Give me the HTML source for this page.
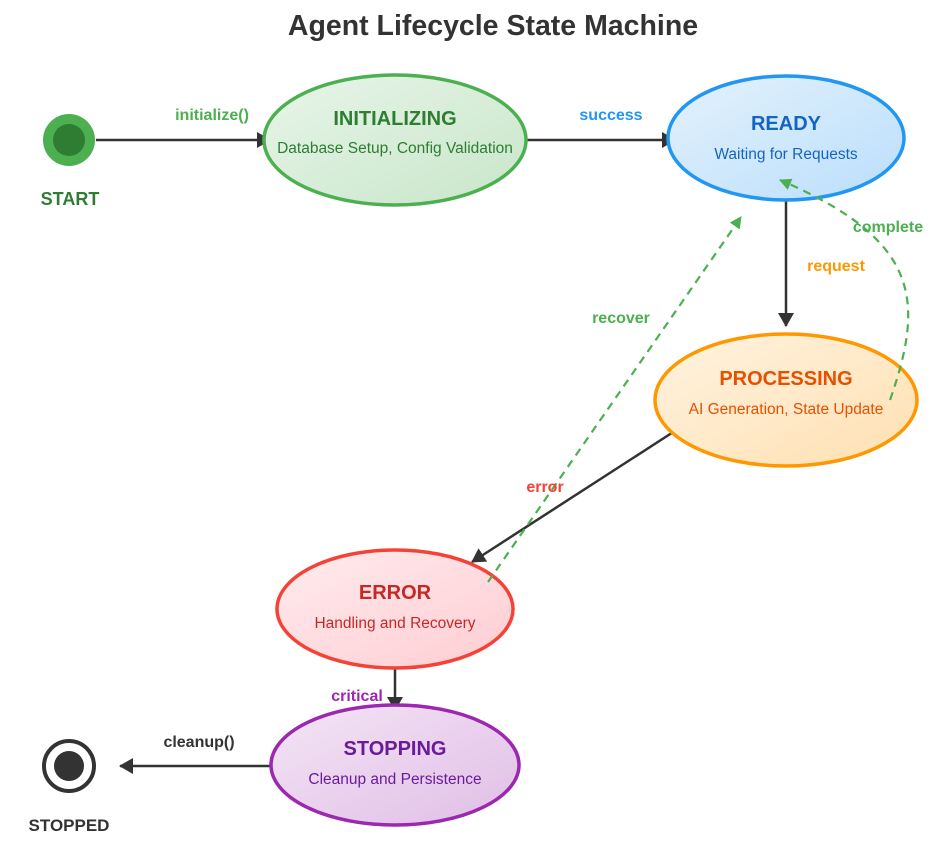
<!DOCTYPE html>
<html><head><meta charset="utf-8"><style>
html,body{margin:0;padding:0;background:#fff;}
svg{display:block;font-family:"Liberation Sans",Arial,sans-serif;}
</style></head><body>
<svg width="933" height="848" viewBox="0 0 933 848" xmlns="http://www.w3.org/2000/svg">
<defs>
<linearGradient id="gi" x1="0" y1="0" x2="1" y2="1"><stop offset="0" stop-color="#e8f5e9"/><stop offset="1" stop-color="#c8e6c9"/></linearGradient>
<linearGradient id="gr" x1="0" y1="0" x2="1" y2="1"><stop offset="0" stop-color="#e3f2fd"/><stop offset="1" stop-color="#bbdefb"/></linearGradient>
<linearGradient id="gp" x1="0" y1="0" x2="1" y2="1"><stop offset="0" stop-color="#fff3e0"/><stop offset="1" stop-color="#ffe0b2"/></linearGradient>
<linearGradient id="ge" x1="0" y1="0" x2="1" y2="1"><stop offset="0" stop-color="#ffebee"/><stop offset="1" stop-color="#ffcdd2"/></linearGradient>
<linearGradient id="gs" x1="0" y1="0" x2="1" y2="1"><stop offset="0" stop-color="#f3e5f5"/><stop offset="1" stop-color="#e1bee7"/></linearGradient>
<marker id="ar" markerWidth="14" markerHeight="16" refX="13" refY="8" orient="auto" markerUnits="userSpaceOnUse" viewBox="0 0 14 16"><path d="M0,0 L14,8 L0,16 z" fill="#333"/></marker>
<marker id="ag" markerWidth="12" markerHeight="12" refX="11" refY="6" orient="auto" markerUnits="userSpaceOnUse" viewBox="0 0 12 12"><path d="M0,0 L12,6 L0,12 z" fill="#4caf50"/></marker>
</defs>
<text x="493" y="35" text-anchor="middle" font-size="28.5" font-weight="bold" fill="#333">Agent Lifecycle State Machine</text>

<line x1="96" y1="140" x2="270" y2="140" stroke="#333" stroke-width="2.5" marker-end="url(#ar)"/>
<line x1="527" y1="140" x2="675" y2="140" stroke="#333" stroke-width="2.5" marker-end="url(#ar)"/>
<line x1="786" y1="200" x2="786" y2="326" stroke="#333" stroke-width="2.5" marker-end="url(#ar)"/>
<line x1="681" y1="427" x2="472" y2="562" stroke="#333" stroke-width="2.5" marker-end="url(#ar)"/>
<line x1="395" y1="668" x2="395" y2="710" stroke="#333" stroke-width="2.5" marker-end="url(#ar)"/>
<line x1="271" y1="766" x2="120" y2="766" stroke="#333" stroke-width="2.5" marker-end="url(#ar)"/>

<circle cx="69" cy="140" r="26" fill="#4caf50"/>
<circle cx="69" cy="140" r="16" fill="#2e7d32"/>
<text x="70" y="205" text-anchor="middle" font-size="18" font-weight="bold" fill="#2e7d32">START</text>

<ellipse cx="395" cy="140" rx="131" ry="65" fill="url(#gi)" stroke="#4caf50" stroke-width="3.5"/>
<text x="395" y="125" text-anchor="middle" font-size="20" font-weight="bold" fill="#2e7d32">INITIALIZING</text>
<text x="395" y="153" text-anchor="middle" font-size="15.5" fill="#2e7d32">Database Setup, Config Validation</text>

<ellipse cx="786" cy="138" rx="118" ry="62" fill="url(#gr)" stroke="#2196f3" stroke-width="3.5"/>
<text x="786" y="130" text-anchor="middle" font-size="20" font-weight="bold" fill="#1565c0">READY</text>
<text x="786" y="159" text-anchor="middle" font-size="15.5" fill="#1565c0">Waiting for Requests</text>

<ellipse cx="786" cy="400" rx="131" ry="66" fill="url(#gp)" stroke="#ff9800" stroke-width="3.5"/>
<text x="786" y="385" text-anchor="middle" font-size="20" font-weight="bold" fill="#e65100">PROCESSING</text>
<text x="786" y="414" text-anchor="middle" font-size="15.5" fill="#e65100">AI Generation, State Update</text>

<ellipse cx="395" cy="609" rx="118" ry="59" fill="url(#ge)" stroke="#f44336" stroke-width="3.5"/>
<text x="395" y="599" text-anchor="middle" font-size="20" font-weight="bold" fill="#c62828">ERROR</text>
<text x="395" y="628" text-anchor="middle" font-size="15.5" fill="#c62828">Handling and Recovery</text>

<ellipse cx="395" cy="765" rx="124" ry="60" fill="url(#gs)" stroke="#9c27b0" stroke-width="3.5"/>
<text x="395" y="755" text-anchor="middle" font-size="20" font-weight="bold" fill="#6a1b9a">STOPPING</text>
<text x="395" y="784" text-anchor="middle" font-size="15.5" fill="#6a1b9a">Cleanup and Persistence</text>

<circle cx="69" cy="766" r="25" fill="#fff" stroke="#333" stroke-width="4"/>
<circle cx="69" cy="766" r="15" fill="#333"/>
<text x="69" y="831" text-anchor="middle" font-size="17" font-weight="bold" fill="#333">STOPPED</text>

<line x1="488" y1="582" x2="741" y2="217" stroke="#4caf50" stroke-width="2.2" stroke-dasharray="8,6" marker-end="url(#ag)"/>
<path d="M890,400 C925,300 920,240 780,180" fill="none" stroke="#4caf50" stroke-width="2.2" stroke-dasharray="8,6" marker-end="url(#ag)"/>

<text x="212" y="120" text-anchor="middle" font-size="16" font-weight="bold" fill="#4caf50">initialize()</text>
<text x="611" y="120" text-anchor="middle" font-size="16" font-weight="bold" fill="#2196f3">success</text>
<text x="836" y="271" text-anchor="middle" font-size="16" font-weight="bold" fill="#ff9800">request</text>
<text x="888" y="232" text-anchor="middle" font-size="16" font-weight="bold" fill="#4caf50">complete</text>
<text x="621" y="323" text-anchor="middle" font-size="16" font-weight="bold" fill="#4caf50">recover</text>
<text x="545" y="492" text-anchor="middle" font-size="16" font-weight="bold" fill="#f44336">error</text>
<text x="357" y="701" text-anchor="middle" font-size="16" font-weight="bold" fill="#9c27b0">critical</text>
<text x="199" y="747" text-anchor="middle" font-size="16" font-weight="bold" fill="#333">cleanup()</text>
</svg>
</body></html>
